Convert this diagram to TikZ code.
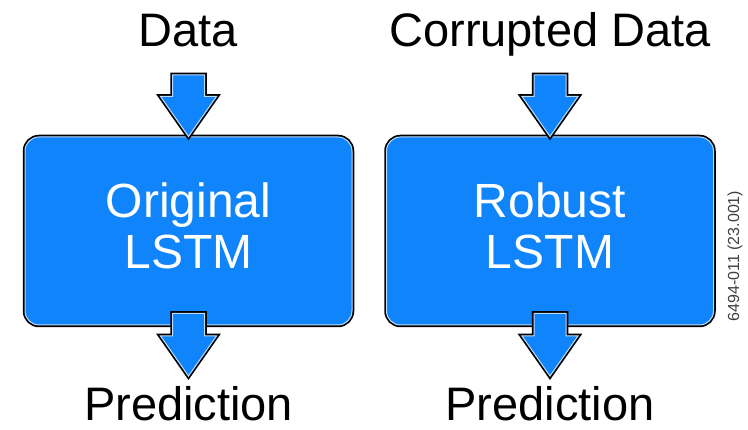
\documentclass[tikz,border=0pt]{standalone}
\usepackage{fontspec}
\setmainfont{Liberation Sans}
\usetikzlibrary{calc}
\definecolor{lstmblue}{RGB}{16,132,250}
\definecolor{rimblue}{RGB}{190,220,255}
\tikzset{
    rim/.style = {preaction = {draw = black, line width = 4.5pt}, fill = lstmblue, draw = rimblue, line width = 1pt},
    lstmbox/.style = {rim, rounded corners = 14pt, minimum width = 327pt, minimum height = 188pt, inner sep = 0pt, align = center, text = white, text depth = 10pt, font = \fontsize{48}{51}\selectfont},
    plaintext/.style = {anchor = base, inner sep = 0pt, font = \fontsize{47}{56}\selectfont},
    blockarrow/.style = {rim, to path = {let \p1 = (\tikztostart), \p2 = (\tikztotarget) in
        (\x1-16pt,\y1) -- (\x1+16pt,\y1) -- (\x1+16pt,\y2+40pt) -- (\x1+28pt,\y2+40pt) -- (\x1,\y2) -- (\x1-28pt,\y2+40pt) -- (\x1-16pt,\y2+40pt) -- cycle}}
}
\begin{document}
\begin{tikzpicture}[x = 1pt, y = 1pt]
        \useasboundingbox (0,0) rectangle (748,430);
        \foreach \cx/\intext/\boxtext/\nm in {188.5/Data/Original/o, 550/Corrupted Data/Robust/r} {
            \node[lstmbox] (box\nm) at (\cx,199) {\boxtext\\LSTM};
            \node[plaintext] (in\nm) at (\cx,383) {\intext};
            \node[plaintext] (out\nm) at (\cx,9) {Prediction};
            \draw[blockarrow] ([yshift = -28pt]in\nm.base) to (box\nm.north);
            \draw[blockarrow] ([yshift = 12pt]box\nm.south) to ([yshift = 45pt]out\nm.base);
        }
        \node[rotate = 90, inner sep = 0pt, text = black!75, font = \fontsize{16}{19}\selectfont] (figid) at (735,174) {6494-011 (23.001)};
    \end{tikzpicture}
\end{document}
